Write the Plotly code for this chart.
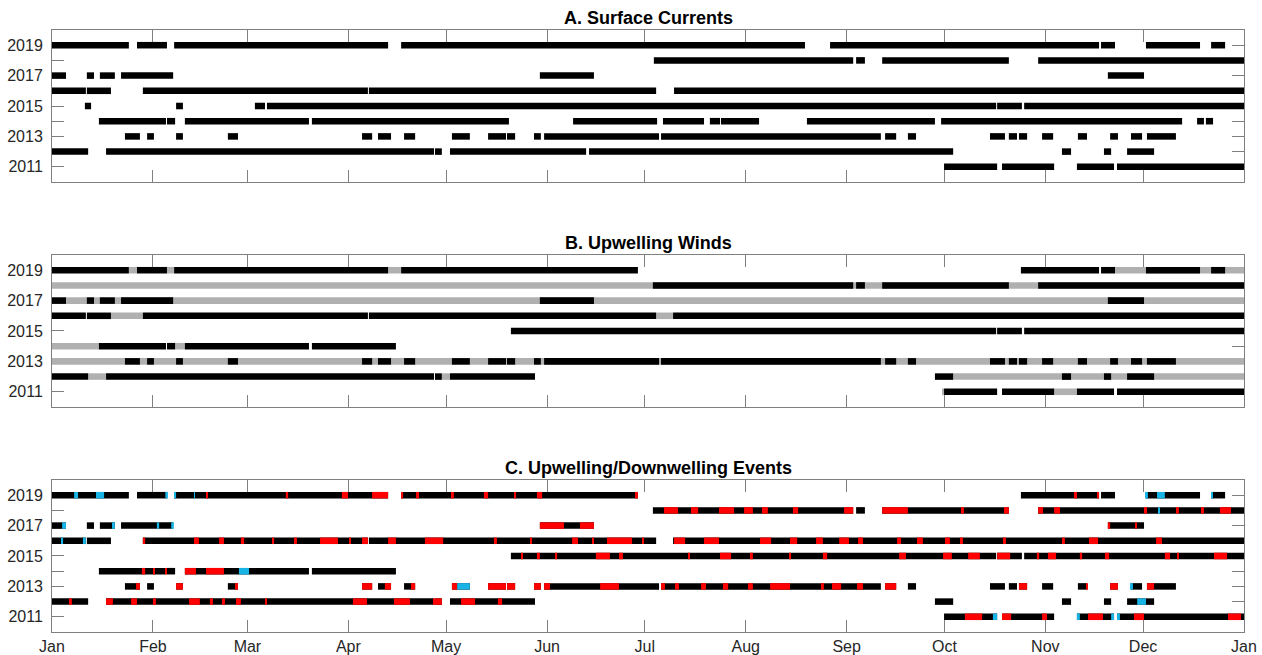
import plotly.graph_objects as go

# ---- axis definitions -------------------------------------------------------
years = [2011, 2012, 2013, 2014, 2015, 2016, 2017, 2018, 2019]
year_labels = ["2011", "", "2013", "", "2015", "", "2017", "", "2019"]
month_starts = [0, 31, 60, 91, 121, 152, 182, 213, 244, 274, 305, 335, 366]
month_labels = ["Jan", "Feb", "Mar", "Apr", "May", "Jun",
                "Jul", "Aug", "Sep", "Oct", "Nov", "Dec", "Jan"]

# ---- data: [start, end] in day of year ---------------------------------------
# A. surface-current observations
surface_currents = {
    2019: [[0, 23.6], [26.1, 35.3], [37.5, 103.2], [107.2, 231.2], [238.9, 321.5],
           [322.1, 326.4], [335.9, 352.5], [355.9, 360.2]],
    2018: [[184.8, 246.0], [246.9, 249.6], [254.9, 293.8], [302.8, 366]],
    2017: [[0, 4.3], [10.7, 12.9], [14.7, 19.3], [21.2, 37.2], [149.8, 166.4],
           [324.2, 335.3]],
    2016: [[0, 10.4], [10.7, 18.1], [27.9, 97.0], [97.3, 185.5], [191.0, 366]],
    2015: [[10.1, 12.0], [38.1, 40.2], [62.3, 65.4], [66.0, 289.9], [290.2, 297.8],
           [298.5, 366]],
    2014: [[14.4, 35.0], [35.3, 37.8], [40.8, 78.9], [79.8, 140.3], [160.0, 185.8],
           [187.6, 200.2], [202.0, 205.1], [205.4, 217.1], [231.8, 271.1],
           [273.0, 347.0], [351.6, 353.7], [354.3, 356.5]],
    2013: [[22.4, 27.0], [29.2, 31.3], [38.1, 40.2], [54.0, 57.1], [95.2, 98.3],
           [100.1, 104.1], [108.1, 111.5], [122.8, 128.3], [133.9, 139.4],
           [139.7, 142.2], [148.0, 150.1], [151.1, 186.4], [187.0, 254.5],
           [255.8, 259.2], [262.8, 265.3], [288.0, 292.6], [293.8, 296.3],
           [296.9, 299.4], [304.0, 307.4], [315.0, 317.8], [324.9, 327.3],
           [331.3, 334.7], [336.2, 345.1]],
    2012: [[0, 11.1], [16.6, 117.3], [117.6, 119.7], [122.2, 164.0], [164.9, 276.7],
           [310.1, 312.9], [323.0, 325.2], [330.1, 338.4]],
    2011: [[273.9, 290.2], [291.7, 307.7], [314.7, 326.1], [327.0, 366]],
}

# B. upwelling-favourable winds coinciding with current data (black)
winds_with_currents = {
    2019: [[0, 23.6], [26.1, 35.3], [37.5, 103.2], [107.2, 179.9], [297.5, 321.5],
           [322.1, 326.4], [335.9, 352.5], [355.9, 360.2]],
    2018: [[184.5, 246.0], [246.9, 249.6], [254.9, 293.8], [302.8, 366]],
    2017: [[0, 4.3], [10.7, 12.9], [14.7, 19.3], [21.2, 37.2], [149.8, 166.4],
           [324.2, 335.3]],
    2016: [[0, 10.4], [10.7, 18.1], [27.9, 97.0], [97.3, 185.5], [190.7, 366]],
    2015: [[140.9, 289.9], [290.2, 297.8], [298.5, 366]],
    2014: [[14.4, 35.0], [35.3, 37.8], [40.8, 78.9], [79.8, 105.6]],
    2013: [[22.4, 27.0], [29.2, 31.3], [38.1, 40.2], [54.0, 57.1], [95.2, 98.3],
           [100.1, 104.1], [108.1, 111.5], [122.8, 128.3], [133.9, 139.4],
           [139.7, 142.2], [148.0, 150.1], [151.1, 186.4], [187.0, 254.5],
           [255.8, 259.2], [262.8, 265.3], [288.0, 292.6], [293.8, 296.3],
           [296.9, 299.4], [304.0, 307.4], [315.0, 317.8], [324.9, 327.3],
           [331.3, 334.7], [336.2, 345.1]],
    2012: [[0, 11.1], [16.6, 117.3], [117.6, 119.7], [122.2, 148.3], [271.1, 276.7],
           [310.1, 312.9], [323.0, 325.2], [330.1, 338.4]],
    2011: [[273.9, 290.2], [291.7, 307.7], [314.7, 326.1], [327.0, 366]],
}

# B. upwelling-favourable winds without current data (grey)
winds_only = {
    2019: [[23.6, 26.1], [35.3, 37.5], [103.2, 107.2], [326.4, 366]],
    2018: [[0, 366]],
    2017: [[0, 366]],
    2016: [[18.1, 27.9], [185.5, 190.7]],
    2015: [],
    2014: [[0, 14.4], [37.8, 40.8]],
    2013: [[0, 366]],
    2012: [[11.1, 16.6], [119.7, 122.2], [276.7, 366]],
    2011: [[273.3, 273.9], [307.7, 314.7]],
}

# C. upwelling events (red)
upwelling_events = {
    2019: [[47.3, 47.9], [71.8, 72.5], [89.0, 90.9], [98.3, 103.2], [107.2, 107.8],
           [111.8, 112.7], [122.8, 123.4], [132.6, 133.9], [141.9, 142.5],
           [148.9, 150.5], [179.0, 179.9], [314.1, 314.7], [320.9, 321.5]],
    2018: [[187.9, 192.2], [196.2, 198.4], [204.8, 209.4], [212.5, 215.2],
           [218.0, 219.8], [227.5, 229.1], [243.2, 246.0], [254.9, 262.8],
           [279.4, 280.0], [292.3, 293.8], [302.8, 304.3], [307.7, 309.5],
           [335.3, 336.2], [345.4, 346.0], [353.1, 353.7], [358.6, 362.0]],
    2017: [[149.8, 157.2], [162.1, 166.4], [324.2, 324.9], [332.8, 333.1]],
    2016: [[27.9, 28.6], [43.6, 45.1], [51.3, 52.8], [58.0, 59.0], [67.6, 68.2],
           [74.3, 75.2], [82.3, 87.8], [91.2, 91.8], [95.2, 97.0], [103.2, 105.6],
           [114.5, 120.1], [135.7, 136.6], [146.8, 147.1], [159.7, 161.5],
           [166.1, 166.4], [170.4, 178.1], [181.2, 181.5], [191.0, 194.4],
           [200.2, 204.8], [217.4, 220.8], [226.6, 228.8], [234.6, 236.7],
           [241.7, 244.7], [247.5, 249.0], [259.5, 260.7], [265.6, 267.4],
           [274.2, 275.7], [278.8, 279.7], [292.0, 292.9], [310.4, 311.0],
           [318.4, 321.2], [339.0, 340.8]],
    2015: [[144.3, 144.6], [148.9, 149.8], [154.5, 155.1], [167.0, 171.3],
           [174.1, 175.3], [195.3, 195.9], [205.1, 208.5], [214.3, 215.2],
           [226.3, 226.9], [236.7, 238.0], [260.1, 262.2], [273.6, 276.3],
           [281.3, 284.9], [290.2, 294.2], [302.4, 303.1], [305.8, 308.3],
           [315.6, 316.3], [323.3, 324.6], [341.7, 343.3], [345.7, 346.0],
           [356.8, 360.8]],
    2014: [[27.6, 28.6], [31.3, 31.6], [34.7, 35.3], [40.8, 44.2], [47.3, 52.8]],
    2013: [[25.8, 27.0], [38.1, 40.2], [56.2, 57.1], [95.2, 98.3], [102.2, 104.1],
           [110.2, 111.5], [122.8, 124.4], [133.9, 139.4], [139.7, 142.2],
           [148.0, 150.1], [151.1, 152.9], [168.3, 174.1], [187.0, 188.2],
           [191.3, 192.5], [199.3, 200.8], [206.0, 207.6], [213.7, 215.2],
           [220.5, 226.6], [236.1, 237.0], [239.5, 242.3], [247.2, 249.0],
           [255.8, 259.2], [296.9, 299.4], [317.5, 317.8], [324.9, 327.3],
           [336.2, 338.4]],
    2012: [[5.5, 6.1], [16.6, 18.7], [24.3, 26.1], [31.0, 31.9], [42.1, 45.4],
           [48.5, 49.4], [52.2, 53.1], [56.5, 58.0], [65.7, 66.0], [92.4, 96.7],
           [105.0, 109.9], [117.0, 119.7], [125.6, 129.9], [136.9, 138.2]],
    2011: [[280.3, 285.6], [291.7, 294.5], [304.0, 305.5], [318.1, 322.7],
           [332.2, 335.3], [361.1, 365.1]],
}

# C. downwelling events (cyan)
downwelling_events = {
    2019: [[6.8, 8.0], [13.5, 16.0], [34.8, 35.6], [37.5, 38.1], [43.6, 43.9],
           [335.9, 336.5], [339.3, 341.7], [355.9, 356.3]],
    2018: [[339.6, 340.0]],
    2017: [[3.1, 4.3], [18.7, 19.3], [32.2, 32.9], [36.6, 37.4]],
    2016: [[2.8, 3.4], [9.5, 10.4]],
    2015: [],
    2014: [[57.4, 60.5]],
    2013: [[124.4, 128.3], [331.3, 331.9]],
    2012: [[333.2, 335.9]],
    2011: [[288.9, 290.2], [314.7, 315.6], [325.2, 326.1], [327.0, 327.9]],
}

# ---- styling ---------------------------------------------------------------
BAR_HEIGHT = 0.43
BLACK = "#000000"
GREY = "#b0b0b0"
RED = "#ff0000"
CYAN = "#19b4e6"
AXIS_COLOR = "#808080"
LABEL_COLOR = "#262626"
FONT = "Liberation Sans, Arial, sans-serif"

panels = [
    # (title, x axis id, y axis id, domain, layers bottom-to-top)
    ("A. Surface Currents", "x", "y", [0.7475, 1.0],
     [(surface_currents, BLACK)]),
    ("B. Upwelling Winds", "x2", "y2", [0.3738, 0.6262],
     [(winds_only, GREY), (winds_with_currents, BLACK)]),
    ("C. Upwelling/Downwelling Events", "x3", "y3", [0.0, 0.2525],
     [(winds_with_currents, BLACK), (upwelling_events, RED),
      (downwelling_events, CYAN)]),
]


def span_trace(spans, color, xref, yref):
    ys, bases, lengths = [], [], []
    for yr in years:
        for start, end in spans.get(yr, []):
            ys.append(yr)
            bases.append(start)
            lengths.append(end - start)
    return go.Bar(
        orientation="h", y=ys, base=bases, x=lengths, width=BAR_HEIGHT,
        marker=dict(color=color, line=dict(width=0)),
        xaxis=xref, yaxis=yref, hoverinfo="skip", showlegend=False,
    )


fig = go.Figure()
layout = dict(
    width=1262, height=655, autosize=False,
    margin=dict(l=52, r=18, t=30, b=23, autoexpand=False),
    paper_bgcolor="white", plot_bgcolor="white",
    barmode="overlay", hovermode=False,
    font=dict(family=FONT, size=16, color=LABEL_COLOR),
    annotations=[],
)

for i, (title, xref, yref, dom, layers) in enumerate(panels):
    for spans, color in layers:
        fig.add_trace(span_trace(spans, color, xref, yref))
    xname = "xaxis" if xref == "x" else "xaxis" + xref[1:]
    yname = "yaxis" if yref == "y" else "yaxis" + yref[1:]
    last = i == len(panels) - 1
    layout[xname] = dict(
        domain=[0, 1], anchor=yref, range=[0, 366], automargin=False,
        tickmode="array", tickvals=month_starts, ticktext=month_labels,
        showticklabels=last, ticks="inside", ticklen=12, tickwidth=1,
        tickcolor=AXIS_COLOR, showline=True, linecolor=AXIS_COLOR,
        linewidth=1, mirror="ticks", showgrid=False, zeroline=False,
        layer="below traces",
        tickfont=dict(size=16, color=LABEL_COLOR), fixedrange=True,
    )
    layout[yname] = dict(
        domain=dom, anchor=xref, range=[2010, 2020], automargin=False,
        tickmode="array", tickvals=years, ticktext=year_labels,
        ticks="inside", ticklen=12, tickwidth=1, tickcolor=AXIS_COLOR,
        showline=True, linecolor=AXIS_COLOR, linewidth=1, mirror="ticks",
        showgrid=False, zeroline=False, ticklabelstandoff=5,
        layer="below traces",
        tickfont=dict(size=16, color=LABEL_COLOR), fixedrange=True,
    )
    layout["annotations"].append(dict(
        text="<b>" + title + "</b>", xref="paper", yref="paper",
        x=0.5, y=dom[1], xanchor="center", yanchor="bottom", yshift=0,
        showarrow=False, font=dict(family=FONT, size=18, color="#000000"),
    ))

fig.update_layout(**layout)
fig.write_html("out.html")
